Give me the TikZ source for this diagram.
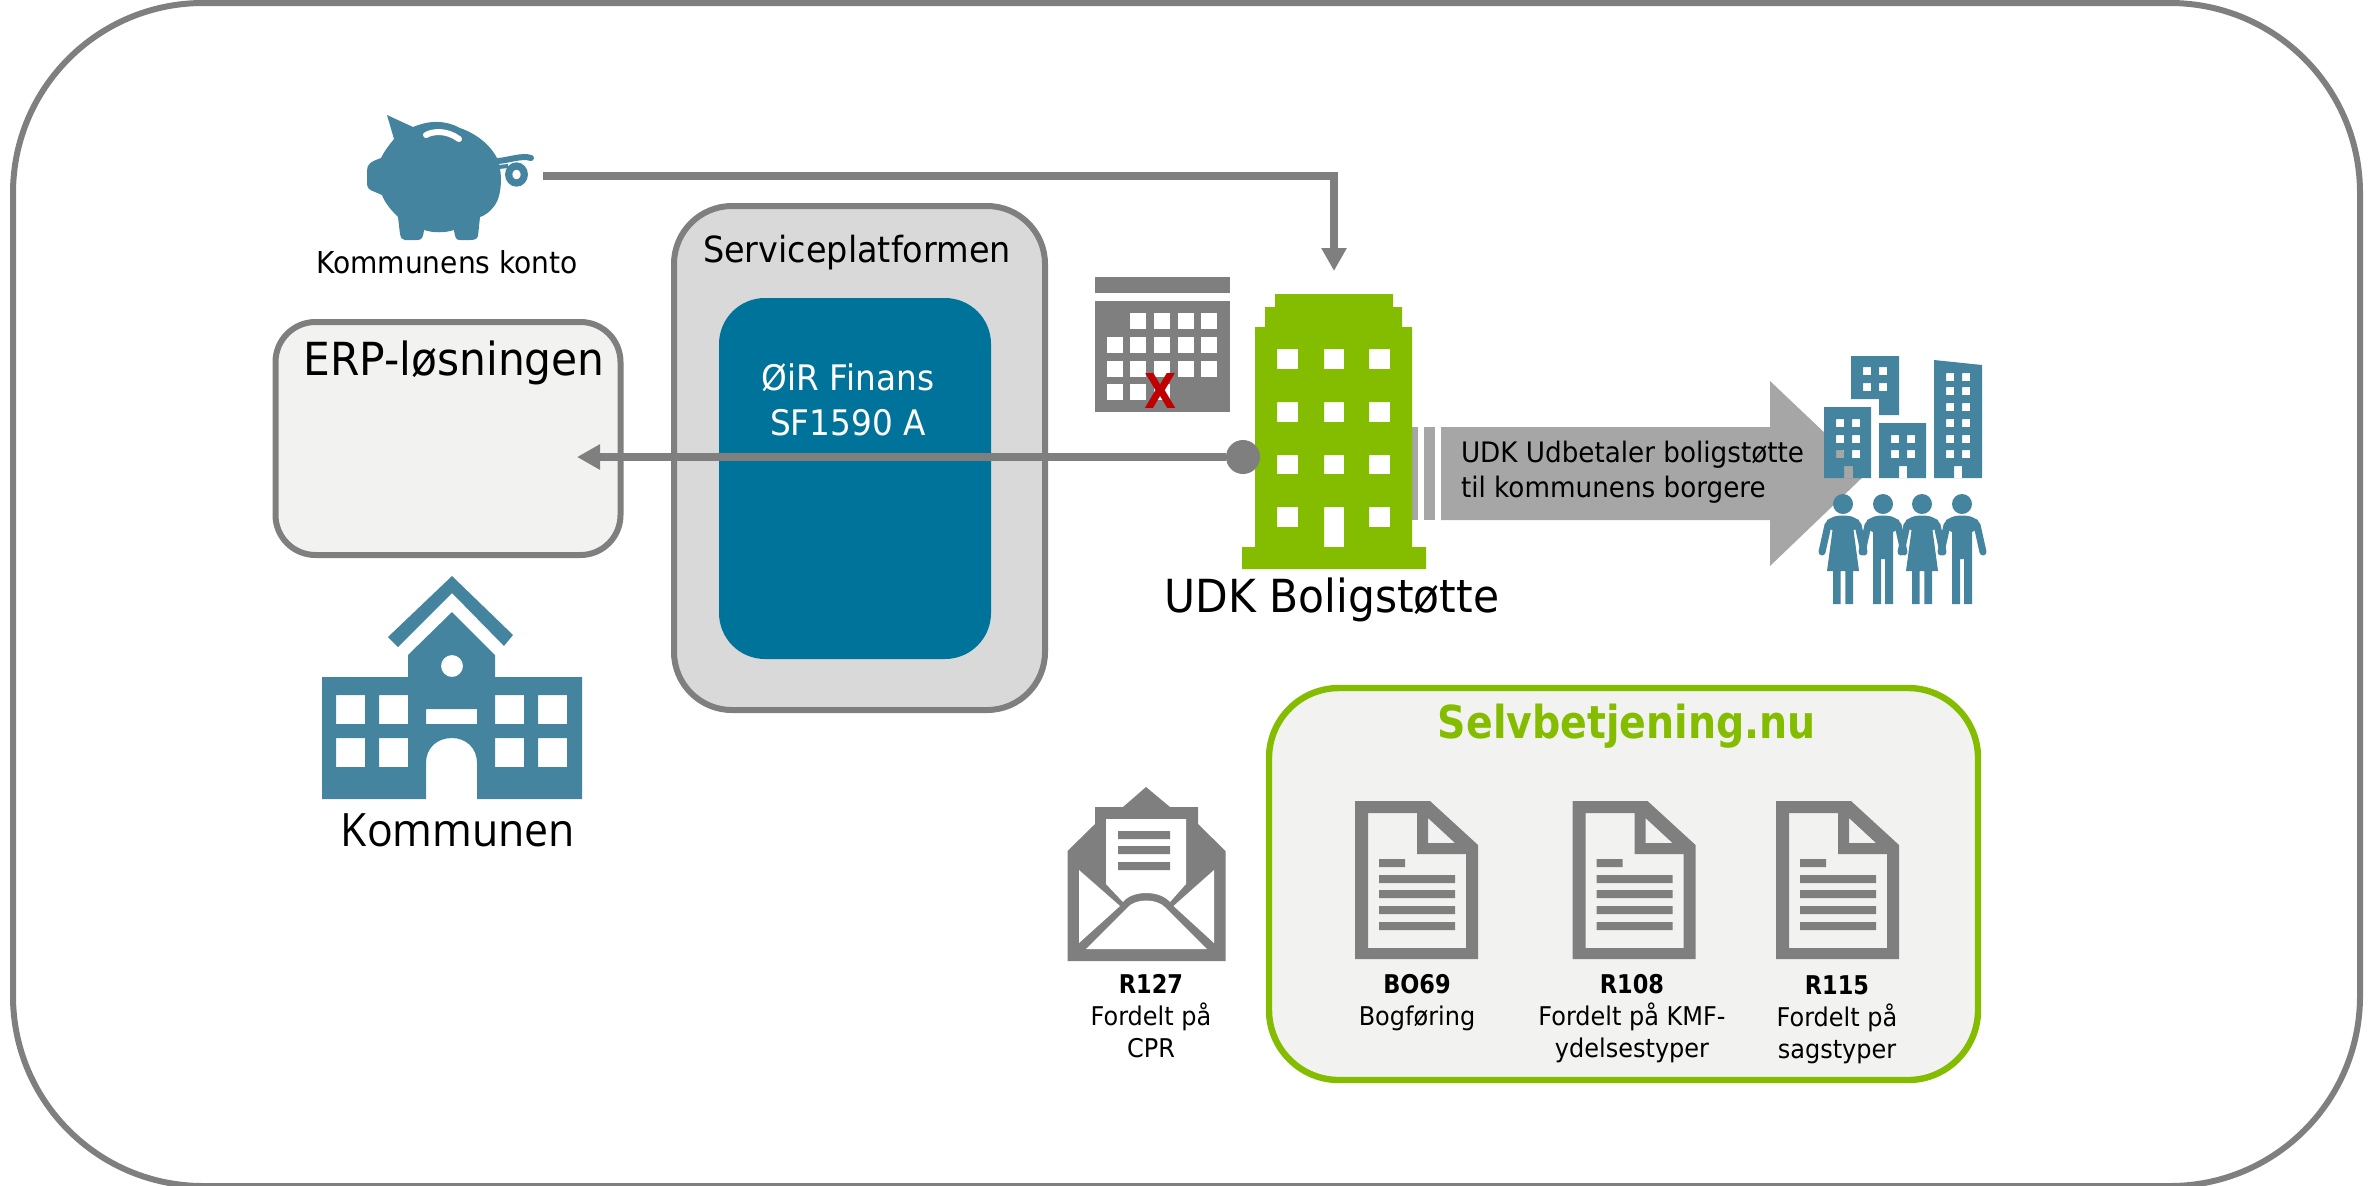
\documentclass[tikz,border=0pt]{standalone}
\usepackage{fontspec}
\setmainfont{DejaVu Sans}[FakeStretch=0.93,BoldFeatures={FakeStretch=0.87}]
\newfontfamily\komfont{Open Sans}[FakeStretch=0.93]
\usetikzlibrary{arrows.meta}
\definecolor{teal1}{HTML}{44849F}
\definecolor{blue1}{HTML}{00739B}
\definecolor{green1}{HTML}{84BD00}
\definecolor{grey1}{HTML}{7F7F7F}
\definecolor{grey2}{HTML}{A6A6A6}
\definecolor{grey3}{HTML}{D9D9D9}
\definecolor{pale1}{HTML}{F2F2F0}
\definecolor{red1}{HTML}{C00000}
\newcommand{\pxfont}[2]{\fontsize{#1pt}{#2pt}\selectfont}
\newcommand{\manfig}[1]{%
  \begin{scope}[shift={(#1,0)}]
    \fill[teal1] (0,504) circle[radius=10];
    \draw[teal1,line width=3.5pt,line cap=round] (-15,525) -- (-21,552);
    \draw[teal1,line width=3.5pt,line cap=round] (15,525) -- (21,552);
    \fill[teal1] (-10,517) .. controls (-5,515) and (5,515) .. (10,517) -- (16,520) -- (18,528) -- (10,532)
      -- (10,604) -- (2,604) -- (2,559) -- (-2,559) -- (-2,604) -- (-10,604) -- (-10,532) -- (-18,528) -- (-16,520) -- cycle;
  \end{scope}}
\newcommand{\womanfig}[1]{%
  \begin{scope}[shift={(#1,0)}]
    \fill[teal1] (0,504) circle[radius=10];
    \draw[teal1,line width=3.5pt,line cap=round] (-15,525) -- (-21,552);
    \draw[teal1,line width=3.5pt,line cap=round] (15,525) -- (21,552);
    \fill[teal1] (-10,517) .. controls (-5,515) and (5,515) .. (10,517) -- (16,520) -- (18,528) -- (10.5,530)
      -- (16,571) -- (10,571) -- (10,604) -- (2.3,604) -- (2.3,571) -- (-2.3,571) -- (-2.3,604) -- (-10,604) -- (-10,571)
      -- (-16,571) -- (-10.5,530) -- (-18,528) -- (-16,520) -- cycle;
  \end{scope}}
\newcommand{\docicon}[1]{%
  \begin{scope}[shift={(#1,0)}]
    \fill[grey1,even odd rule]
      (0,801) -- (75,801) -- (123,845) -- (123,959) -- (0,959) -- cycle
      (13,813) -- (62,813) -- (62,854) -- (111,854) -- (111,948) -- (13,948) -- cycle
      (73,818) -- (73,843) -- (100,843) -- cycle;
    \fill[grey1] (24,859) rectangle (50,867)
      (24,875) rectangle (100,883) (24,890) rectangle (100,898)
      (24,906) rectangle (100,914) (24,922) rectangle (100,930);
  \end{scope}}
\tikzset{
  every node/.style={inner sep=0pt,outer sep=0pt},
  conn/.style={draw=grey1,line width=4pt,-{Triangle[length=11.5pt,width=12pt]}},
  lbl/.style={anchor=base,text=black,align=center},
  small/.style={lbl,font=\pxfont{12.9}{16}},
  greybox/.style={draw=grey1,line width=3pt},
}
\begin{document}
\begin{tikzpicture}[x=0.5pt,y=-0.5pt]
\useasboundingbox (0,0) rectangle (2376,1185);
\begin{scope}
\clip (0,0) rectangle (2376,1185);
\node[greybox,rounded corners=95pt,minimum width=1173.5pt,minimum height=591.5pt] (frame) at (1186.5,594.5) {};
\end{scope}

% boxes
\node[greybox,fill=grey3,rounded corners=29pt,minimum width=185.5pt,minimum height=252pt] (sp) at (859.5,458) {};
\node[fill=blue1,rounded corners=23pt,minimum width=136pt,minimum height=180.5pt] (oir) at (855,478.5) {};
\node[greybox,fill=pale1,rounded corners=20pt,minimum width=172.5pt,minimum height=116.5pt] (erp) at (448,438.5) {};
\node[draw=green1,line width=3.2pt,fill=pale1,rounded corners=35pt,minimum width=354.5pt,minimum height=196pt] (selv) at (1623.5,884) {};

% text in boxes
\node[lbl] (sptxt) at (857,262) {\pxfont{18}{18}Serviceplatformen};
\node[lbl,text=white,font=\pxfont{17.6}{22.5}] (oirtxt) at (848,435) {ØiR Finans\\SF1590 A};
\node[lbl] (erptxt) at (454,375) {\pxfont{22.8}{22.8}ERP-løsningen};
\node[lbl] (konto) at (447,273) {\pxfont{15.1}{15.1}Kommunens konto};
\node[lbl,text=green1] (selvtxt) at (1627,738) {\pxfont{22.7}{23}\bfseries Selvbetjening.nu};

% big grey arrow with stripes
\fill[grey2] (1441,427) -- (1770,427) -- (1770,381) -- (1867,473) -- (1770,566) -- (1770,520) -- (1441,520) -- cycle;
\fill[grey2] (1424,427) rectangle (1435,520);
\fill[grey2] (1405,427) rectangle (1418,520);
\node[lbl,anchor=base west,align=left,font=\pxfont{14.1}{17.5}] (bigtxt) at (1461,497) {UDK Udbetaler boligstøtte\\til kommunens borgere};

% piggy bank
\fill[teal1] (387,115) -- (413,127) .. controls (430,120) and (445,120) .. (460,128)
  .. controls (480,135) and (492,148) .. (497,158) .. controls (503,172) and (502,195) .. (495,205)
  .. controls (490,212) and (484,216) .. (480,217) -- (478,236) .. controls (477,240) and (472,240) .. (470,240) -- (460,240)
  .. controls (456,240) and (455,238) .. (454,230) .. controls (445,233) and (433,233) .. (424,230)
  .. controls (423,238) and (422,240) .. (417,240) -- (405,240) .. controls (402,240) and (401,238) .. (400,234)
  -- (398,217) .. controls (391,210) and (385,203) .. (382,195) -- (375,192) .. controls (369,190) and (367,188) .. (367,183)
  -- (367,171) .. controls (367,164) and (370,162) .. (381,158) .. controls (385,150) and (390,144) .. (394,139) -- cycle;
\draw[white,line width=3pt,line cap=round] (426,135) .. controls (433,131) and (447,130) .. (459,139);
\draw[teal1,line width=3pt,line cap=round] (498,161) .. controls (510,160) and (522,155) .. (531,158);
\draw[teal1,line width=2pt] (499,167) -- (508,166);
\draw[teal1,line width=3.6pt] (516.5,174.5) ellipse[x radius=7.8,y radius=8.5];

% calendar
\fill[grey1] (1095,277) rectangle (1230,293);
\fill[grey1] (1095,301) rectangle (1230,412);
\foreach \cx/\cy in {1130/313,1154/313,1178/313,1201/313,
  1107/337,1130/337,1154/337,1178/337,1201/337,
  1107/361,1130/361,1154/361,1178/361,1201/361,
  1107/384,1130/384,1154/384}
  \fill[white] (\cx,\cy) rectangle +(16,16);
\node[lbl,text=red1] (xmark) at (1161,408) {\pxfont{24}{24}\bfseries X};

% green building
\fill[green1,even odd rule]
  (1275,294) -- (1393,294) -- (1393,307) -- (1402,307) -- (1402,327) -- (1412,327) -- (1412,547) -- (1426,547) -- (1426,569)
  -- (1242,569) -- (1242,547) -- (1255,547) -- (1255,327) -- (1265,327) -- (1265,307) -- (1275,307) -- cycle
  (1277,349) rectangle (1298,369) (1324,349) rectangle (1344,369) (1369,349) rectangle (1390,369)
  (1277,402) rectangle (1298,422) (1324,402) rectangle (1344,422) (1369,402) rectangle (1390,422)
  (1277,455) rectangle (1298,474) (1324,455) rectangle (1344,474) (1369,455) rectangle (1390,474)
  (1277,507) rectangle (1298,527) (1324,507) rectangle (1344,547) (1369,507) rectangle (1390,527);
\node[lbl] (udk) at (1332,612) {\pxfont{22.8}{23}UDK Boligstøtte};

% connectors
\coordinate (pigR) at (543,176);
\coordinate (bldTop) at (1334,271);
\coordinate (erpTip) at (577,457);
\node[circle,fill=grey1,minimum size=17pt] (dot) at (1243,457) {};
\draw[conn] (pigR) -| (bldTop);
\draw[conn] (dot) -- (erpTip);

% city buildings
\fill[teal1,even odd rule]
  (1851,356) -- (1899,356) -- (1899,415) -- (1879,415) -- (1879,399) -- (1851,399) -- cycle
  (1863,367) rectangle (1871,375) (1879,367) rectangle (1887,375)
  (1863,383) rectangle (1871,391) (1879,383) rectangle (1887,391);
\fill[teal1,even odd rule]
  (1824,407) rectangle (1871,478)
  (1836,419) rectangle (1844,427) (1852,419) rectangle (1860,427)
  (1836,435) rectangle (1844,443) (1852,435) rectangle (1860,443)
  (1836,450) rectangle (1844,458) (1852,450) rectangle (1860,458)
  (1844,466) rectangle (1853,478);
\fill[teal1,even odd rule]
  (1879,423) rectangle (1926,478)
  (1891,435) rectangle (1899,443) (1907,435) rectangle (1915,443)
  (1891,450) rectangle (1899,458) (1907,450) rectangle (1915,458)
  (1899,466) rectangle (1907,478);
\fill[teal1,even odd rule]
  (1934,360) -- (1982,365) -- (1982,478) -- (1934,478) -- cycle
  (1946,373) rectangle (1954,381) (1962,373) rectangle (1970,381)
  (1946,387) rectangle (1954,395) (1962,387) rectangle (1970,395)
  (1946,403) rectangle (1954,411) (1962,403) rectangle (1970,411)
  (1946,419) rectangle (1954,427) (1962,419) rectangle (1970,427)
  (1946,435) rectangle (1954,443) (1962,435) rectangle (1970,443)
  (1946,450) rectangle (1954,458) (1962,450) rectangle (1970,458)
  (1954,466) rectangle (1962,478);

% people
\womanfig{1843}
\manfig{1883}
\womanfig{1922}
\manfig{1962}

% town hall
\fill[teal1] (452,576) -- (513,635) -- (504,646) -- (452,593) -- (398,647) -- (388,637) -- cycle;
\fill[teal1,even odd rule]
  (452,612) -- (495,655) -- (495,677) -- (582,677) -- (582,799) -- (477,799) -- (477,763)
  .. controls (477,748) and (466,738) .. (452,738) .. controls (437,738) and (426,748) .. (426,763)
  -- (426,799) -- (322,799) -- (322,677) -- (408,677) -- (408,655) -- cycle
  (463,666) arc[start angle=0,end angle=360,radius=11]
  (426,709) rectangle (477,724)
  (336,695) rectangle (365,724) (379,695) rectangle (408,724)
  (495,695) rectangle (524,724) (538,695) rectangle (567,724)
  (336,738) rectangle (365,767) (379,738) rectangle (408,767)
  (495,738) rectangle (524,767) (538,738) rectangle (567,767);
\node[lbl] (kom) at (458,846) {\pxfont{23}{23}\komfont Kommunen};

% envelope
\fill[grey1] (1146,787) -- (1170,807) -- (1198,807) -- (1198,824) -- (1225.5,851) -- (1225.5,961) -- (1067.5,961) -- (1067.5,851) -- (1095,824) -- (1095,807) -- (1123,807) -- cycle;
\fill[white] (1106,819) -- (1186,819) -- (1186,884) -- (1170,902) .. controls (1160,890) and (1132,890) .. (1123,902) -- (1106,884) -- cycle;
\fill[grey1] (1118,831) rectangle (1170,839) (1118,846) rectangle (1170,854) (1118,862) rectangle (1170,870);
\fill[white] (1079,870) -- (1120,906) -- (1079,943) -- cycle;
\fill[white] (1214,870) -- (1173.5,906) -- (1214,943) -- cycle;
\fill[white] (1086,949) -- (1127,908) .. controls (1135,898) and (1157,898) .. (1166,908) -- (1207,949) -- cycle;
\node[small] (r127) at (1151,1057) {\textbf{R127}\\Fordelt på\\CPR};

% documents
\docicon{1355}
\docicon{1572.5}
\docicon{1776}
\node[small] (bo69) at (1417,1025) {\textbf{BO69}\\Bogføring};
\node[small] (r108) at (1632,1057) {\textbf{R108}\\Fordelt på KMF-\\ydelsestyper};
\node[small] (r115) at (1837,1058) {\textbf{R115}\\Fordelt på\\sagstyper};
\end{tikzpicture}
\end{document}
